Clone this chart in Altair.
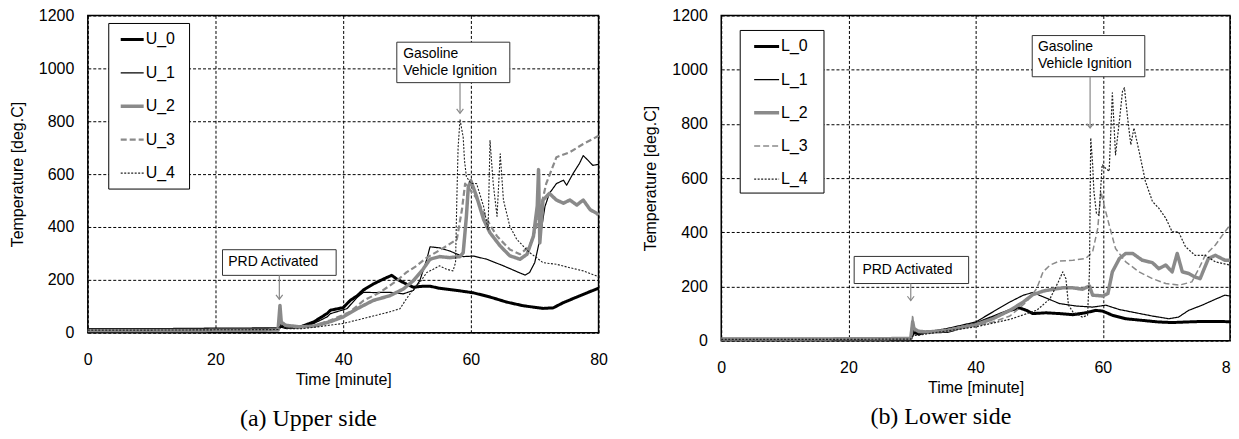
import altair as alt
import pandas as pd

# ---------------- data ----------------
U_NAMES = ["U_0", "U_1", "U_2", "U_3", "U_4"]
L_NAMES = ["L_0", "L_1", "L_2", "L_3", "L_4"]

U0_t = [0, 10, 20, 29.8, 30.2, 31, 33.3, 35.4, 37.5, 38.0, 40.0, 41.1, 42.2, 43.2, 44.7, 46.3, 47.6, 48.4, 49.9, 51.0, 52.5, 53.6, 55.1, 57.8, 60.4, 63.0, 65.6, 68.2, 71.3, 72.9, 74.5, 76.6, 78.7, 80]
U0_v = [12, 12, 14, 15, 25, 20, 22, 41, 73, 85, 95, 122, 140, 162, 184, 203, 217, 203, 184, 172, 176, 176, 168, 160, 151, 135, 116, 102, 92, 94, 114, 135, 156, 168]

U1_t = [0, 10, 20, 29.8, 30.2, 31, 33.3, 35.4, 37.5, 38.0, 40.6, 42.2, 43.2, 44.7, 47.3, 49.4, 51.0, 52.0, 53.1, 53.6, 55.1, 56.7, 58.8, 60.4, 62.5, 65.1, 67.7, 68.5, 69.2, 70.0, 70.8, 71.6, 72.3, 73.4, 74.5, 75.0, 76.0, 77.0, 77.6, 78.4, 79.1, 80]
U1_v = [10, 11, 12, 13, 22, 18, 20, 35, 60, 72, 91, 134, 153, 152, 153, 147, 160, 197, 278, 325, 321, 309, 288, 290, 278, 253, 226, 218, 228, 265, 352, 477, 527, 564, 577, 558, 602, 640, 670, 651, 633, 637]

U2_t = [0, 10, 20, 29.8, 30.1, 30.3, 31, 33.3, 35.4, 38.0, 40.0, 42.2, 44.7, 47.3, 49.4, 51.0, 52.5, 53.6, 55.1, 56.7, 58.3, 58.8, 59.3, 59.6, 60.0, 60.9, 62.0, 63.0, 64.6, 66.1, 67.7, 68.8, 69.8, 70.4, 70.6, 70.8, 71.3, 72.3, 73.4, 74.5, 75.5, 76.6, 77.6, 78.7, 79.7, 80]
U2_v = [8, 8, 9, 10, 103, 40, 28, 22, 25, 42, 60, 91, 122, 140, 165, 197, 240, 278, 288, 284, 288, 303, 440, 552, 575, 515, 428, 378, 328, 291, 278, 297, 365, 480, 617, 340, 502, 527, 502, 490, 502, 483, 502, 465, 452, 445]

U3_t = [0, 10, 20, 29.8, 30.1, 30.3, 31, 33.3, 35.4, 38.0, 41.1, 43.2, 45.8, 48.4, 49.9, 51.5, 53.1, 54.6, 56.2, 57.8, 58.6, 59.1, 59.9, 60.9, 62.5, 64.1, 66.1, 67.7, 69.2, 70.3, 71.8, 73.4, 75.5, 77.6, 79.1, 80]
U3_v = [8, 9, 9, 10, 80, 35, 25, 20, 25, 47, 79, 122, 153, 197, 228, 253, 284, 305, 328, 353, 465, 564, 540, 508, 428, 365, 315, 297, 328, 403, 564, 664, 683, 714, 733, 745]

U4_t = [0, 10, 20, 29.8, 30.2, 31, 33.3, 36, 38.0, 40, 43.2, 47.3, 48.9, 49.9, 51.0, 52.0, 53.1, 54.1, 55.1, 56.2, 57.2, 57.6, 57.8, 58.0, 58.3, 58.8, 59.0, 59.3, 60.0, 60.9, 62.0, 62.7, 63.0, 63.5, 64.1, 64.6, 65.1, 66.1, 67.2, 68.2, 69.2, 70.3, 71.3, 73.4, 75.5, 77.6, 79.7, 80]
U4_v = [10, 10, 11, 12, 30, 15, 15, 22, 29, 35, 54, 79, 91, 128, 165, 190, 228, 240, 253, 240, 234, 265, 502, 700, 807, 739, 652, 590, 565, 564, 477, 390, 727, 564, 440, 677, 502, 403, 353, 328, 303, 284, 265, 259, 246, 234, 215, 210]

L0_t = [0, 10, 20, 29.8, 30.2, 31, 32.3, 35.5, 40.0, 42.7, 45.4, 46.9, 48.0, 49.0, 51.1, 53.2, 55.3, 57.3, 58.9, 60.0, 61.5, 63.6, 66.2, 68.8, 70.9, 73.0, 75.5, 78.1, 80]
L0_v = [5, 5, 6, 7, 30, 25, 32, 34, 62, 87, 112, 121, 112, 100, 103, 100, 96, 103, 112, 109, 94, 81, 75, 69, 67, 69, 71, 71, 70]

L1_t = [0, 10, 20, 29.8, 30.2, 31, 32.3, 35.5, 40.0, 42.7, 45.4, 47.5, 49.0, 50.6, 53.2, 55.8, 58.4, 60.5, 62.6, 65.2, 67.8, 70.4, 71.9, 73.5, 75.6, 77.7, 79.2, 80]
L1_v = [5, 6, 6, 7, 40, 28, 32, 45, 69, 106, 143, 168, 178, 162, 137, 128, 124, 131, 115, 103, 91, 81, 87, 112, 131, 153, 168, 165]

L2_t = [0, 10, 20, 29.8, 30.1, 30.3, 31, 32.3, 35.5, 40, 42.7, 45.4, 47.5, 49.0, 50.6, 52.2, 53.7, 55.3, 56.8, 57.9, 58.4, 60.0, 60.8, 61.5, 62.6, 63.6, 64.7, 66.2, 67.8, 68.8, 69.9, 70.9, 71.7, 72.5, 73.5, 74.5, 75.3, 76.6, 77.7, 79.2, 80]
L2_v = [6, 6, 7, 8, 70, 45, 35, 32, 38, 59, 81, 112, 143, 170, 183, 190, 195, 195, 190, 202, 168, 165, 174, 254, 303, 322, 322, 297, 288, 266, 279, 254, 322, 254, 248, 235, 229, 303, 315, 297, 297]

L3_t = [0, 10, 20, 29.8, 30.1, 30.3, 31, 32.3, 40, 42.7, 45.4, 48.0, 49.6, 50.6, 51.7, 53.2, 55.3, 57.3, 58.4, 59.2, 59.7, 60.2, 61.0, 62.0, 63.6, 65.7, 67.8, 69.9, 72.0, 74.0, 75.1, 76.1, 77.7, 79.2, 80]
L3_v = [5, 5, 6, 7, 95, 40, 30, 30, 54, 69, 91, 143, 192, 254, 279, 294, 297, 303, 328, 414, 550, 500, 427, 340, 291, 254, 229, 211, 205, 217, 266, 315, 353, 402, 427]

L4_t = [0, 10, 20, 29.8, 30.2, 31, 32.3, 40, 45.4, 49.6, 51.7, 53.0, 53.7, 54.2, 54.6, 55.3, 56.8, 57.6, 57.9, 58.1, 58.4, 58.6, 59.0, 59.4, 59.9, 60.4, 61.0, 61.5, 62.0, 62.6, 63.1, 63.4, 63.9, 64.4, 64.9, 65.7, 66.7, 67.8, 68.8, 69.9, 70.9, 71.9, 73.0, 74.5, 76.1, 77.7, 80]
L4_v = [5, 5, 5, 6, 20, 20, 25, 51, 79, 112, 155, 217, 254, 229, 131, 106, 87, 94, 254, 748, 650, 550, 470, 463, 650, 637, 625, 915, 686, 810, 921, 933, 822, 723, 785, 699, 588, 514, 489, 452, 402, 402, 347, 315, 315, 291, 279]

SERIES_COLORS = ["#000000", "#000000", "#8a8a8a", "#8a8a8a", "#222222"]
U_WIDTHS = [3, 1.2, 3.5, 2.2, 1.1]
L_WIDTHS = [3, 1.2, 3.5, 1.5, 1.2]
DASHES = [[1, 0], [1, 0], [1, 0], [6, 3], [2, 1.5]]

X_TICKS = [0, 20, 40, 60, 80]
Y_TICKS = [0, 200, 400, 600, 800, 1000, 1200]

# annotation boxes / texts / arrows (data coordinates)
U_BOX = {"x1": [21.1, 48.4], "x2": [38.9, 66.1], "y1": [217, 946], "y2": [314, 1099]}
L_BOX = {"x1": [20.9, 48.9], "x2": [38.9, 66.6], "y1": [211, 974], "y2": [311, 1126]}
U_TXT = {"x": [22.0, 49.4], "y": [266, 1082], "text": ["PRD Activated", "Gasoline\nVehicle Ignition"]}
L_TXT = {"x": [22.2, 49.8], "y": [262, 1109], "text": ["PRD Activated", "Gasoline\nVehicle Ignition"]}
U_ARR = {"x": [30.0, 58.3], "y1": [217, 946], "y2": [127, 830]}
L_ARR = {"x": [29.8, 58.0], "y1": [211, 974], "y2": [148, 785]}

FONT = "Liberation Sans"


def series_frame(names, ts, vs, widths):
    rows = []
    for k, (n, t, v) in enumerate(zip(names, ts, vs)):
        for a, b in zip(t, v):
            rows.append({"t": a, "T": b, "s": n, "w": widths[k]})
    return pd.DataFrame(rows)


def panel(names, ts, vs, widths, box, txt, arr, width, height, caption, cap_offset, leg):
    df = series_frame(names, ts, vs, widths)
    xs = alt.Scale(domain=[0, 80], nice=False)
    ys = alt.Scale(domain=[0, 1200], nice=False)
    cscale = alt.Scale(domain=names, range=SERIES_COLORS)
    dscale = alt.Scale(domain=names, range=DASHES)
    lines = alt.Chart(df).mark_line(strokeJoin="round").encode(
        x=alt.X("t:Q", scale=xs,
                axis=alt.Axis(values=X_TICKS, title="Time [minute]", labelPadding=19,
                              titlePadding=4, format="d", labelFlush=False)),
        y=alt.Y("T:Q", scale=ys,
                axis=alt.Axis(values=Y_TICKS, title="Temperature [deg.C]", labelPadding=14,
                              titlePadding=13, format="d", labelFlush=False)),
        color=alt.Color("s:N", scale=cscale, legend=None),
        strokeDash=alt.StrokeDash("s:N", scale=dscale, legend=None),
        strokeWidth=alt.StrokeWidth("w:Q", scale=None),
        order=alt.Order("t:Q"),
    )
    boxes = alt.Chart(pd.DataFrame(box)).mark_rect(
        fill="white", stroke="#333333", strokeWidth=1).encode(
        x=alt.X("x1:Q", scale=xs), x2="x2:Q", y=alt.Y("y1:Q", scale=ys), y2="y2:Q")
    tdf = pd.DataFrame(txt)
    texts_prd = alt.Chart(tdf).transform_filter("datum.text === 'PRD Activated'").mark_text(
        align="left", baseline="middle", font=FONT, fontSize=14, color="black").encode(
        x=alt.X("x:Q", scale=xs), y=alt.Y("y:Q", scale=ys), text="text:N")
    texts_gas = alt.Chart(tdf).transform_filter("datum.text !== 'PRD Activated'").mark_text(
        align="left", baseline="top", font=FONT, fontSize=14, lineBreak="\n", lineHeight=17,
        color="black").encode(x=alt.X("x:Q", scale=xs), y=alt.Y("y:Q", scale=ys), text="text:N")
    adf = pd.DataFrame(arr)
    shafts = alt.Chart(adf).mark_rule(color="#888888", strokeWidth=1.2).encode(
        x=alt.X("x:Q", scale=xs), y=alt.Y("y1:Q", scale=ys), y2="y2:Q")
    heads = alt.Chart(adf).mark_point(shape="M-1,-1.3L0,0L1,-1.3", filled=False, size=45,
                                      color="#888888", strokeWidth=1.2, opacity=1).encode(
        x=alt.X("x:Q", scale=xs), y=alt.Y("y2:Q", scale=ys))
    main = alt.layer(lines, boxes, texts_prd, texts_gas, shafts, heads)

    # legend drawn as its own layer (entries come from the names list)
    ldf = pd.DataFrame({"s": names, "w": widths})
    lys = alt.Scale(type="point", domain=names, range=[leg["y0"], leg["y1"]], padding=0)
    frame = alt.Chart(pd.DataFrame({"k": [0]})).mark_rect(
        fill="white", stroke="black", strokeWidth=1).encode(
        x=alt.value(leg["bx1"]), x2=alt.value(leg["bx2"]),
        y=alt.value(leg["by1"]), y2=alt.value(leg["by2"]))
    syms = alt.Chart(ldf).mark_rule().encode(
        x=alt.value(leg["sx1"]), x2=alt.value(leg["sx2"]),
        y=alt.Y("s:N", scale=lys, axis=None),
        color=alt.Color("s:N", scale=cscale, legend=None),
        strokeDash=alt.StrokeDash("s:N", scale=dscale, legend=None),
        strokeWidth=alt.StrokeWidth("w:Q", scale=None),
    )
    labs = alt.Chart(ldf).mark_text(align="left", baseline="middle", font=FONT, fontSize=16,
                                    color="black").encode(
        x=alt.value(leg["tx"]), y=alt.Y("s:N", scale=lys, axis=None), text="s:N")
    legend = alt.layer(frame, syms, labs)

    return alt.layer(main, legend).resolve_scale(y="independent").properties(
        width=width, height=height,
        title=alt.TitleParams(caption, orient="bottom", anchor="middle", frame="bounds",
                              offset=cap_offset, font="Liberation Serif", fontSize=24,
                              fontWeight="normal", color="black"),
    )


U_LEG = {"bx1": 21, "bx2": 102, "by1": 8, "by2": 174, "y0": 24, "y1": 158,
         "sx1": 33, "sx2": 56, "tx": 58}
L_LEG = {"bx1": 19, "bx2": 103, "by1": 15, "by2": 178, "y0": 31, "y1": 164,
         "sx1": 33, "sx2": 58, "tx": 60}

left = panel(U_NAMES, [U0_t, U1_t, U2_t, U3_t, U4_t], [U0_v, U1_v, U2_v, U3_v, U4_v],
             U_WIDTHS, U_BOX, U_TXT, U_ARR, 512, 318, "(a) Upper side", 20, U_LEG)
right = panel(L_NAMES, [L0_t, L1_t, L2_t, L3_t, L4_t], [L0_v, L1_v, L2_v, L3_v, L4_v],
              L_WIDTHS, L_BOX, L_TXT, L_ARR, 510, 326, "(b) Lower side", 10, L_LEG)

chart = alt.hconcat(left, right, spacing=33).resolve_scale(
    color="independent", strokeDash="independent"
).properties(
    padding={"left": 0, "top": -2, "right": -9, "bottom": 0},
    background="white",
).configure_axis(
    labelFont=FONT, labelFontSize=16, labelColor="black",
    titleFont=FONT, titleFontSize=16, titleFontWeight="normal", titleColor="black",
    domain=False, ticks=False,
    gridColor="black", gridDash=[3, 2], gridOpacity=1, gridWidth=1,
).configure_view(
    stroke="black", strokeWidth=1.5,
)

chart.save("out.html", embed_options={"renderer": "svg", "actions": False})
